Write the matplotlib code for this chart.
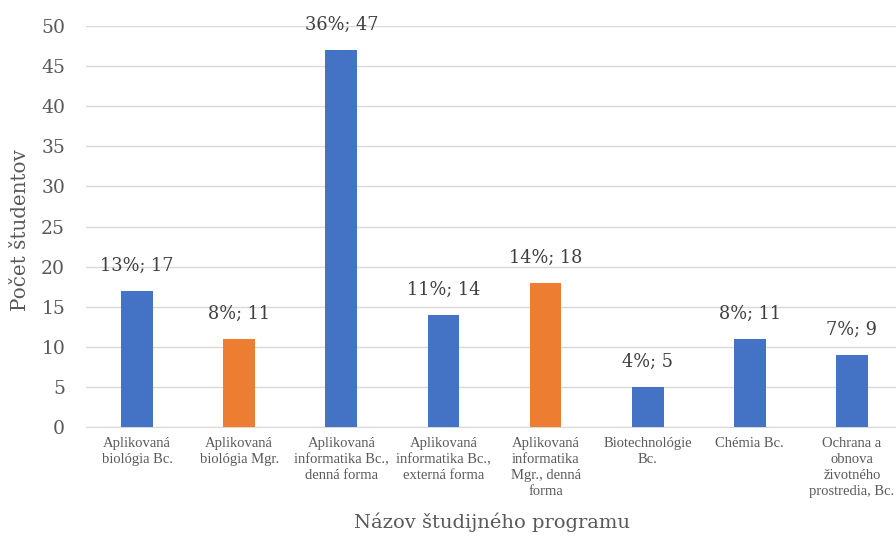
import matplotlib.pyplot as plt

# --- dati ---
programy = ['Aplikovaná\nbiológia Bc.', 'Aplikovaná\nbiológia Mgr.',
            'Aplikovaná\ninformatika Bc.,\ndenná forma', 'Aplikovaná\ninformatika Bc.,\nexterná forma',
            'Aplikovaná\ninformatika\nMgr., denná\nforma', 'Biotechnológie\nBc.', 'Chémia Bc.',
            'Ochrana a\nobnova\nživotného\nprostredia, Bc.']
studenti = [17, 11, 47, 14, 18, 5, 11, 9]
percenta = [13, 8, 36, 11, 14, 4, 8, 7]
farby = ['#4472C4', '#ED7D31', '#4472C4', '#4472C4', '#ED7D31', '#4472C4', '#4472C4', '#4472C4']

TXT = '#595959'
SERIF = ['DejaVu Serif']

fig = plt.figure(figsize=(8.96, 5.38), dpi=100)
ax = fig.add_axes([86 / 896, 1 - 427 / 538, 817 / 896, 401 / 538])

x = range(len(programy))
ax.bar(x, studenti, width=0.31, color=farby, zorder=3)

for i, (v, p) in enumerate(zip(studenti, percenta)):
    ax.text(i, v + 2.0, f'{p}%; {v}', ha='center', va='bottom',
            fontsize=12.8, color='#404040', family=SERIF)

ax.set_ylim(0, 50)
ax.set_xlim(-0.5, len(programy) - 0.5)
ax.set_yticks(range(0, 51, 5))
ax.yaxis.grid(True, color='#D9D9D9', linewidth=1, zorder=0)
for s in ['top', 'right', 'left']:
    ax.spines[s].set_visible(False)
ax.spines['bottom'].set_color('#D9D9D9')
ax.tick_params(axis='both', length=0, colors=TXT)
ax.tick_params(axis='y', pad=15)
for lab in ax.get_yticklabels():
    lab.set_family(SERIF)
    lab.set_fontsize(13.5)

ax.set_xticks(list(x))
ax.set_xticklabels(programy, fontsize=10.5, family=['Liberation Serif'], color=TXT,
                   linespacing=1.3)
ax.tick_params(axis='x', pad=7)

fig.text(20 / 896, 1 - 230 / 538, 'Počet študentov', rotation=90, ha='center', va='center',
         fontsize=14.3, color=TXT, family=SERIF)
fig.text(492 / 896, 1 - 522 / 538, 'Názov študijného programu', ha='center', va='center',
         fontsize=14, color=TXT, family=SERIF)

plt.savefig('out.png', dpi=100)
